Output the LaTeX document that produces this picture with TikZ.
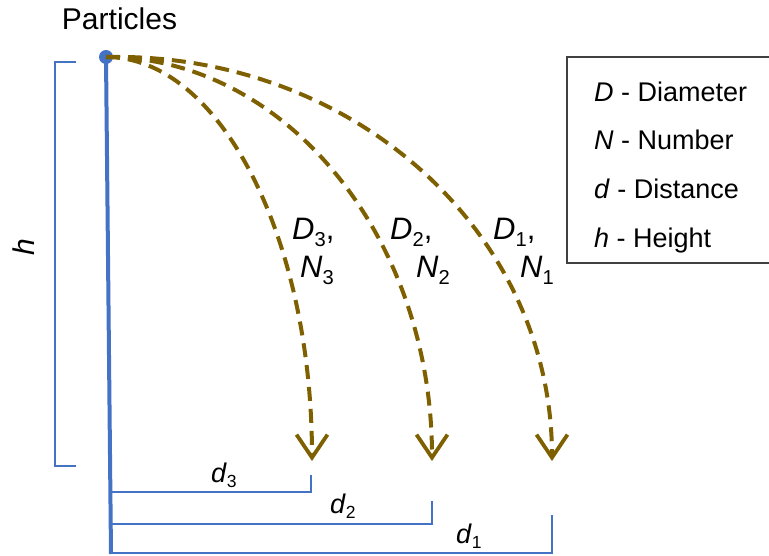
\documentclass[tikz,border=0pt]{standalone}
\usepackage{fontspec}
\usepackage{graphicx}
\setmainfont{Liberation Sans}
\usetikzlibrary{arrows.meta}
\definecolor{pblue}{HTML}{4472C4}
\definecolor{pbrown}{HTML}{7F6000}
\definecolor{pgray}{HTML}{404040}
\newcommand{\sbx}[1]{\raisebox{-0.2em}{\scalebox{0.65}{#1}}}
\begin{document}
\begin{tikzpicture}[x=1pt,y=-1pt,
  dot/.style={circle,fill=pblue,inner sep=0pt,minimum size=14pt},
  mainline/.style={pblue,line width=4pt},
  bracket/.style={pblue,line width=2pt},
  traj/.style={pbrown,line width=4pt,dash pattern=on 14pt off 8pt,
    -{Straight Barb[length=23pt,width=31pt,line width=3.8pt]}},
  lab/.style={font=\fontsize{31}{36}\selectfont,anchor=base west,inner sep=0pt},
  dlab/.style={font=\fontsize{27}{32}\selectfont,anchor=base west,inner sep=0pt},
  leg/.style={font=\fontsize{27}{32}\selectfont,anchor=base west,inner sep=0pt}]
\useasboundingbox (0,0) rectangle (769,556);
% title and source point
\node[anchor=base,inner sep=0pt,font=\fontsize{30}{36}\selectfont] (ptxt) at (119.5,30) {Particles};
\node[dot] (p) at (106,57) {};
\coordinate (base) at (111,554);
\draw[mainline] (p.center) -- (base);
% height bracket
\coordinate (ht) at (76,62);
\coordinate (hb) at (76,466);
\draw[bracket] (ht) -- (55,62) -- (55,466) -- (hb);
\node[rotate=90,inner sep=0pt,font=\fontsize{30}{36}\selectfont\itshape] (hl) at (24,247) {h};
% trajectories
\coordinate (t3) at (312,461);
\coordinate (t2) at (432,461);
\coordinate (t1) at (552,461);
\draw[traj] (p.center) .. controls (220,57) and (312,238) .. (t3);
\draw[traj] (p.center) .. controls (286,57) and (432,238) .. (t2);
\draw[traj] (p.center) .. controls (353,52) and (552,232) .. (t1);
\node[lab] (D3) at (292,240) {\textit{D}\sbx{3},};
\node[lab] (N3) at (300,278) {\textit{N}\sbx{3}};
\node[lab] (D2) at (390,240) {\textit{D}\sbx{2},};
\node[lab] (N2) at (416,278) {\textit{N}\sbx{2}};
\node[lab] (D1) at (493,240) {\textit{D}\sbx{1},};
\node[lab] (N1) at (520,278) {\textit{N}\sbx{1}};
% distance brackets
\coordinate (a3) at (110.5,492);
\coordinate (a2) at (110.8,524);
\coordinate (a1) at (111,553);
\draw[bracket] (a3) -- (311,492) -- (311,475);
\draw[bracket] (a2) -- (432,524) -- (432,501);
\draw[bracket] (a1) -- (552,553) -- (552,515);
\node[dlab] (d3) at (211,482) {\textit{d}\sbx{3}};
\node[dlab] (d2) at (330,513) {\textit{d}\sbx{2}};
\node[dlab] (d1) at (456,543) {\textit{d}\sbx{1}};
% legend
\draw[pgray,line width=1.5pt] (775,57) -- (567,57) -- (567,263) -- (775,263);
\node[leg] (lD) at (594,102) {\textit{D} - Diameter};
\node[leg] (lN) at (594,150) {\textit{N} - Number};
\node[leg] (ld) at (594,199) {\textit{d} - Distance};
\node[leg] (lh) at (594,248) {\textit{h} - Height};
\end{tikzpicture}
\end{document}
